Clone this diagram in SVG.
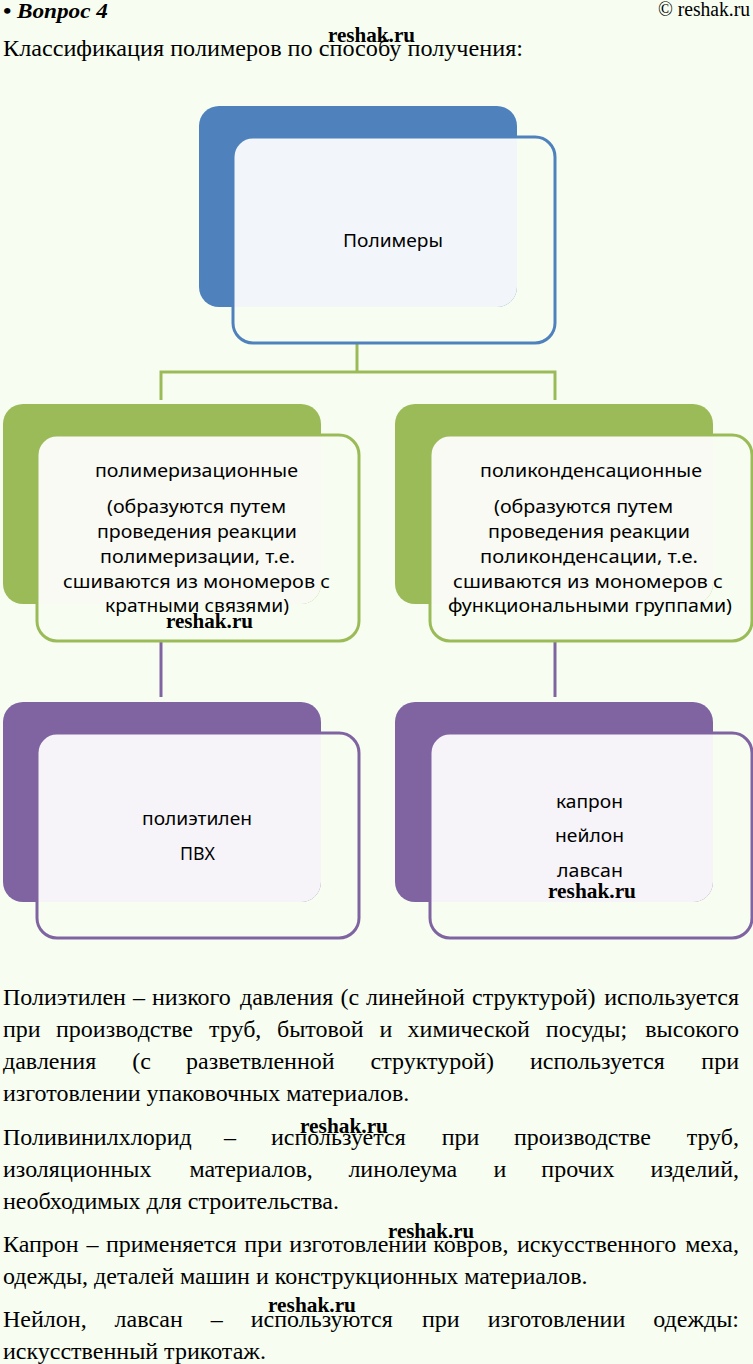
<svg xmlns="http://www.w3.org/2000/svg" width="753" height="1364" viewBox="0 0 753 1364">
<style>
.bg{fill:#F7FEF1}
.serif{font-family:"Liberation Serif","Times New Roman",serif;fill:#000}
.body{font-size:24px}
.wm{font-family:"Liberation Serif","Times New Roman",serif;font-weight:bold;font-size:21px;fill:#000}
.lbl{font-family:"Noto Sans","Open Sans",sans-serif;font-size:18px;fill:#000}
.veil{fill:#fff;fill-opacity:0.93}
.blue-back{fill:#4F81BD}
.blue-front{fill:none;stroke:#4F81BD;stroke-width:3}
.green-back{fill:#9BBB59}
.green-front{fill:none;stroke:#9BBB59;stroke-width:3}
.purple-back{fill:#8064A2}
.purple-front{fill:none;stroke:#8064A2;stroke-width:3}
.green-line{fill:none;stroke:#9BBB59;stroke-width:3}
.purple-line{fill:none;stroke:#8064A2;stroke-width:3}
.end{text-anchor:end}
</style>
<defs>
<clipPath id="c0"><rect x="199" y="106" width="318" height="201" rx="20"/></clipPath>
<clipPath id="c1"><rect x="3" y="404" width="318" height="200" rx="20"/></clipPath>
<clipPath id="c2"><rect x="395" y="404" width="318" height="200" rx="20"/></clipPath>
<clipPath id="c3"><rect x="3" y="702" width="318" height="200" rx="20"/></clipPath>
<clipPath id="c4"><rect x="395" y="702" width="318" height="200" rx="20"/></clipPath>
</defs>
<rect class="bg" x="0" y="0" width="753" height="1364"/>

<g id="header">
<text class="serif" x="3" y="18" font-size="22" font-weight="bold" font-style="italic" textLength="105" lengthAdjust="spacingAndGlyphs">• Вопрос 4</text>
<text class="serif" x="658" y="16" font-size="20" textLength="92" lengthAdjust="spacingAndGlyphs">© reshak.ru</text>
<text class="wm" x="328" y="42" textLength="87" lengthAdjust="spacingAndGlyphs">reshak.ru</text>
<text class="serif body" x="3" y="56" textLength="520" lengthAdjust="spacingAndGlyphs">Классификация полимеров по способу получения:</text>
</g>

<g id="connectors">
<path class="green-line" d="M357 343V372M161 400V372H555V400"/>
<path class="purple-line" d="M161 641V697M555 641V697"/>
</g>

<g id="node-polymers">
<rect class="blue-back" x="199" y="106" width="318" height="201" rx="20"/>
<rect class="veil" x="233" y="137" width="322" height="206" rx="20" clip-path="url(#c0)"/>
<rect class="blue-front" x="233" y="137" width="322" height="206" rx="20"/>
<text class="lbl" x="343" y="247" textLength="100" lengthAdjust="spacingAndGlyphs">Полимеры</text>
</g>

<g id="node-polymerization">
<rect class="green-back" x="3" y="404" width="318" height="200" rx="20"/>
<rect class="veil" x="37" y="435" width="322" height="206" rx="20" clip-path="url(#c1)"/>
<rect class="green-front" x="37" y="435" width="322" height="206" rx="20"/>
<text class="lbl" x="95" y="477" textLength="203" lengthAdjust="spacingAndGlyphs">полимеризационные</text>
<text class="lbl" x="107" y="513" textLength="179" lengthAdjust="spacingAndGlyphs">(образуются путем</text>
<text class="lbl" x="97" y="538" textLength="200" lengthAdjust="spacingAndGlyphs">проведения реакции</text>
<text class="lbl" x="100" y="563" textLength="195" lengthAdjust="spacingAndGlyphs">полимеризации, т.е.</text>
<text class="lbl" x="63" y="588" textLength="267" lengthAdjust="spacingAndGlyphs">сшиваются из мономеров с</text>
<text class="lbl" x="105" y="612" textLength="184" lengthAdjust="spacingAndGlyphs">кратными связями)</text>
<text class="wm" x="166" y="628" textLength="87" lengthAdjust="spacingAndGlyphs">reshak.ru</text>
</g>

<g id="node-polycondensation">
<rect class="green-back" x="395" y="404" width="318" height="200" rx="20"/>
<rect class="veil" x="430" y="435" width="322" height="206" rx="20" clip-path="url(#c2)"/>
<rect class="green-front" x="430" y="435" width="322" height="206" rx="20"/>
<text class="lbl" x="480" y="477" textLength="222" lengthAdjust="spacingAndGlyphs">поликонденсационные</text>
<text class="lbl" x="494" y="513" textLength="179" lengthAdjust="spacingAndGlyphs">(образуются путем</text>
<text class="lbl" x="488" y="538" textLength="202" lengthAdjust="spacingAndGlyphs">проведения реакции</text>
<text class="lbl" x="480" y="563" textLength="218" lengthAdjust="spacingAndGlyphs">поликонденсации, т.е.</text>
<text class="lbl" x="453" y="588" textLength="270" lengthAdjust="spacingAndGlyphs">сшиваются из мономеров с</text>
<text class="lbl" x="448" y="612" textLength="284" lengthAdjust="spacingAndGlyphs">функциональными группами)</text>
</g>

<g id="node-examples-left">
<rect class="purple-back" x="3" y="702" width="318" height="200" rx="20"/>
<rect class="veil" x="37" y="733" width="322" height="205" rx="20" clip-path="url(#c3)"/>
<rect class="purple-front" x="37" y="733" width="322" height="205" rx="20"/>
<text class="lbl" x="142" y="825" textLength="110" lengthAdjust="spacingAndGlyphs">полиэтилен</text>
<text class="lbl" x="180" y="860" textLength="35" lengthAdjust="spacingAndGlyphs">ПВХ</text>
</g>

<g id="node-examples-right">
<rect class="purple-back" x="395" y="702" width="318" height="200" rx="20"/>
<rect class="veil" x="430" y="733" width="322" height="205" rx="20" clip-path="url(#c4)"/>
<rect class="purple-front" x="430" y="733" width="322" height="205" rx="20"/>
<text class="lbl" x="556" y="808" textLength="67" lengthAdjust="spacingAndGlyphs">капрон</text>
<text class="lbl" x="555" y="842" textLength="69" lengthAdjust="spacingAndGlyphs">нейлон</text>
<text class="lbl" x="557" y="877" textLength="66" lengthAdjust="spacingAndGlyphs">лавсан</text>
<text class="wm" x="548" y="898" textLength="88" lengthAdjust="spacingAndGlyphs">reshak.ru</text>
</g>

<g id="body-text" class="serif body">
<text y="1005"><tspan x="3">Полиэтилен</tspan><tspan x="133">–</tspan><tspan x="152">низкого</tspan><tspan x="240">давления</tspan><tspan x="340.6">(с</tspan><tspan x="366">линейной</tspan><tspan x="472">структурой)</tspan></text>
<text class="end" x="739" y="1005">используется</text>
<text y="1037"><tspan x="3">при</tspan><tspan x="56">производстве</tspan><tspan x="209">труб,</tspan><tspan x="277">бытовой</tspan><tspan x="379.4">и</tspan><tspan x="407.6">химической</tspan><tspan x="545.8">посуды;</tspan></text>
<text class="end" x="739" y="1037">высокого</text>
<text y="1069"><tspan x="3">давления</tspan><tspan x="132.3">(с</tspan><tspan x="186">разветвленной</tspan><tspan x="370.6">структурой)</tspan><tspan x="530">используется</tspan></text>
<text class="end" x="739" y="1069">при</text>
<text x="3" y="1101">изготовлении упаковочных материалов.</text>
<text y="1145"><tspan x="3">Поливинилхлорид</tspan><tspan x="224">–</tspan><tspan x="271">используется</tspan><tspan x="441.7">при</tspan><tspan x="514">производстве</tspan></text>
<text class="end" x="739" y="1145">труб,</text>
<text y="1177"><tspan x="3">изоляционных</tspan><tspan x="189.6">материалов,</tspan><tspan x="348.4">линолеума</tspan><tspan x="493.5">и</tspan><tspan x="541.3">прочих</tspan></text>
<text class="end" x="739" y="1177">изделий,</text>
<text x="3" y="1209">необходимых для строительства.</text>
<text y="1252"><tspan x="3">Капрон</tspan><tspan x="86.6">–</tspan><tspan x="105.9">применяется</tspan><tspan x="244.3">при</tspan><tspan x="289.3">изготовлении</tspan><tspan x="433.3">ковров,</tspan><tspan x="516.9">искусственного</tspan></text>
<text class="end" x="739" y="1252">меха,</text>
<text x="3" y="1284">одежды, деталей машин и конструкционных материалов.</text>
<text y="1327"><tspan x="3">Нейлон,</tspan><tspan x="114.6">лавсан</tspan><tspan x="210.7">–</tspan><tspan x="250.7">используются</tspan><tspan x="422">при</tspan><tspan x="487.7">изготовлении</tspan></text>
<text class="end" x="739" y="1327">одежды:</text>
<text x="3" y="1359">искусственный трикотаж.</text>
</g>

<g id="watermarks">
<text class="wm" x="300" y="1133" textLength="88" lengthAdjust="spacingAndGlyphs">reshak.ru</text>
<text class="wm" x="388" y="1238" textLength="86" lengthAdjust="spacingAndGlyphs">reshak.ru</text>
<text class="wm" x="268" y="1312" textLength="88" lengthAdjust="spacingAndGlyphs">reshak.ru</text>
</g>
</svg>
